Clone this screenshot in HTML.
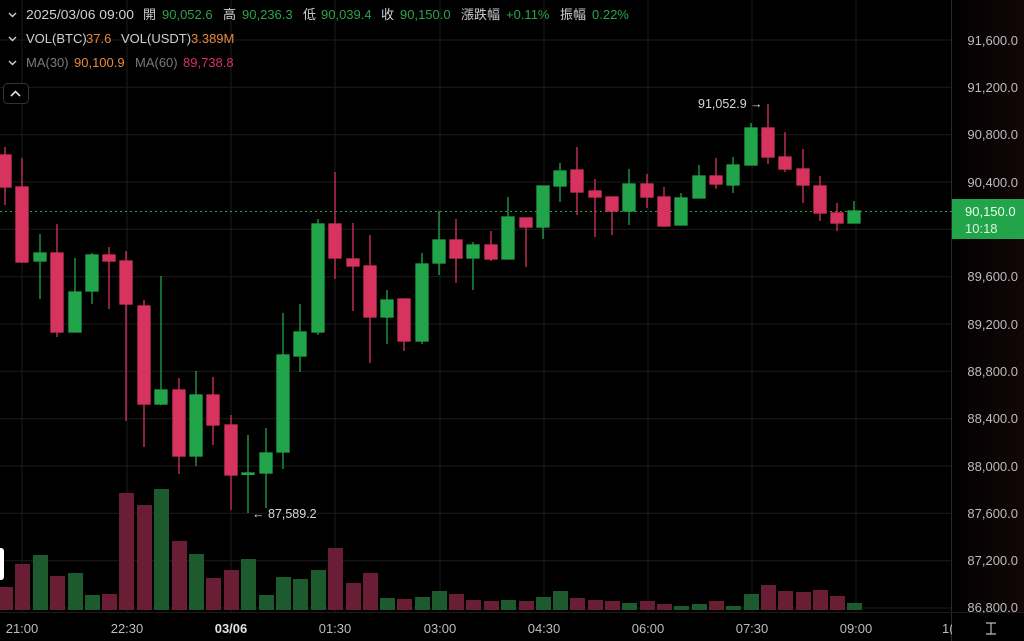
<!DOCTYPE html>
<html><head><meta charset="utf-8"><style>
html,body{margin:0;padding:0;background:#000;}
svg{display:block;font-family:"Liberation Sans","Noto Sans CJK TC",sans-serif;}
</style></head><body>
<svg width="1024" height="641" viewBox="0 0 1024 641" xmlns="http://www.w3.org/2000/svg">
<rect width="1024" height="641" fill="#000"/>
<defs><linearGradient id="rg" x1="0" x2="1"><stop offset="0" stop-color="#000"/><stop offset="1" stop-color="#120608"/></linearGradient></defs>
<rect x="952" y="0" width="72" height="641" fill="url(#rg)"/>
<g stroke="#1c1c1c" stroke-width="1">
<line x1="0" x2="952" y1="40" y2="40"/><line x1="0" x2="952" y1="87.3" y2="87.3"/><line x1="0" x2="952" y1="134.7" y2="134.7"/><line x1="0" x2="952" y1="182" y2="182"/><line x1="0" x2="952" y1="229.3" y2="229.3"/><line x1="0" x2="952" y1="276.7" y2="276.7"/><line x1="0" x2="952" y1="324" y2="324"/><line x1="0" x2="952" y1="371.3" y2="371.3"/><line x1="0" x2="952" y1="418.7" y2="418.7"/><line x1="0" x2="952" y1="466" y2="466"/><line x1="0" x2="952" y1="513.3" y2="513.3"/><line x1="0" x2="952" y1="560.7" y2="560.7"/><line x1="0" x2="952" y1="608" y2="608"/>
<line y1="0" y2="612" x1="22" x2="22"/><line y1="0" y2="612" x1="127" x2="127"/><line y1="0" y2="612" x1="231" x2="231"/><line y1="0" y2="612" x1="335" x2="335"/><line y1="0" y2="612" x1="440" x2="440"/><line y1="0" y2="612" x1="544" x2="544"/><line y1="0" y2="612" x1="648" x2="648"/><line y1="0" y2="612" x1="752" x2="752"/><line y1="0" y2="612" x1="856" x2="856"/>
</g>
<line x1="951.5" x2="951.5" y1="0" y2="641" stroke="#2a2a2a"/>
<line x1="0" x2="1024" y1="612.5" y2="612.5" stroke="#1a1a1a"/>
<g>
<rect x="-2" y="587" width="15" height="23" fill="#6a1e35"/>
<rect x="15" y="564" width="15" height="46" fill="#6a1e35"/>
<rect x="33" y="555" width="15" height="55" fill="#1d5a2d"/>
<rect x="50" y="576" width="15" height="34" fill="#6a1e35"/>
<rect x="68" y="573" width="15" height="37" fill="#1d5a2d"/>
<rect x="85" y="595" width="15" height="15" fill="#1d5a2d"/>
<rect x="102" y="594" width="15" height="16" fill="#6a1e35"/>
<rect x="119" y="493" width="15" height="117" fill="#6a1e35"/>
<rect x="137" y="505" width="15" height="105" fill="#6a1e35"/>
<rect x="154" y="489" width="15" height="121" fill="#1d5a2d"/>
<rect x="172" y="541" width="15" height="69" fill="#6a1e35"/>
<rect x="189" y="554" width="15" height="56" fill="#1d5a2d"/>
<rect x="206" y="578" width="15" height="32" fill="#6a1e35"/>
<rect x="224" y="570" width="15" height="40" fill="#6a1e35"/>
<rect x="241" y="559" width="15" height="51" fill="#1d5a2d"/>
<rect x="259" y="595" width="15" height="15" fill="#1d5a2d"/>
<rect x="276" y="577" width="15" height="33" fill="#1d5a2d"/>
<rect x="293" y="579" width="15" height="31" fill="#1d5a2d"/>
<rect x="311" y="570" width="15" height="40" fill="#1d5a2d"/>
<rect x="328" y="548" width="15" height="62" fill="#6a1e35"/>
<rect x="346" y="583" width="15" height="27" fill="#6a1e35"/>
<rect x="363" y="573" width="15" height="37" fill="#6a1e35"/>
<rect x="380" y="598" width="15" height="12" fill="#1d5a2d"/>
<rect x="397" y="599" width="15" height="11" fill="#6a1e35"/>
<rect x="415" y="597" width="15" height="13" fill="#1d5a2d"/>
<rect x="432" y="591" width="15" height="19" fill="#1d5a2d"/>
<rect x="449" y="594" width="15" height="16" fill="#6a1e35"/>
<rect x="466" y="600" width="15" height="10" fill="#6a1e35"/>
<rect x="484" y="601" width="15" height="9" fill="#6a1e35"/>
<rect x="501" y="600" width="15" height="10" fill="#1d5a2d"/>
<rect x="519" y="601" width="15" height="9" fill="#6a1e35"/>
<rect x="536" y="597" width="15" height="13" fill="#1d5a2d"/>
<rect x="553" y="591" width="15" height="19" fill="#1d5a2d"/>
<rect x="570" y="598" width="15" height="12" fill="#6a1e35"/>
<rect x="588" y="600" width="15" height="10" fill="#6a1e35"/>
<rect x="605" y="601" width="15" height="9" fill="#6a1e35"/>
<rect x="622" y="603" width="15" height="7" fill="#1d5a2d"/>
<rect x="640" y="601" width="15" height="9" fill="#6a1e35"/>
<rect x="657" y="604" width="15" height="6" fill="#6a1e35"/>
<rect x="674" y="606" width="15" height="4" fill="#1d5a2d"/>
<rect x="692" y="604" width="15" height="6" fill="#1d5a2d"/>
<rect x="709" y="601" width="15" height="9" fill="#6a1e35"/>
<rect x="726" y="606" width="15" height="4" fill="#1d5a2d"/>
<rect x="744" y="594" width="15" height="16" fill="#1d5a2d"/>
<rect x="761" y="585" width="15" height="25" fill="#6a1e35"/>
<rect x="778" y="591" width="15" height="19" fill="#6a1e35"/>
<rect x="796" y="592" width="15" height="18" fill="#6a1e35"/>
<rect x="813" y="590" width="15" height="20" fill="#6a1e35"/>
<rect x="830" y="596" width="15" height="14" fill="#6a1e35"/>
<rect x="847" y="603" width="15" height="7" fill="#1d5a2d"/>
</g>
<line x1="0" x2="952" y1="211.5" y2="211.5" stroke="#2aa34a" stroke-dasharray="2 3" stroke-width="1"/>
<g stroke-width="1.3">
<g stroke="#d6335e" fill="#d6335e">
<line x1="5" x2="5" y1="147" y2="205"/><rect x="-1" y="155" width="12" height="32"/>
<line x1="22" x2="22" y1="158" y2="263"/><rect x="16" y="187" width="12" height="75"/>
<line x1="57" x2="57" y1="224" y2="337"/><rect x="51" y="253" width="12" height="79"/>
<line x1="109" x2="109" y1="247" y2="309"/><rect x="103" y="255" width="12" height="6"/>
<line x1="126" x2="126" y1="251" y2="421"/><rect x="120" y="261" width="12" height="43"/>
<line x1="144" x2="144" y1="300" y2="447"/><rect x="138" y="306" width="12" height="98"/>
<line x1="179" x2="179" y1="378" y2="474"/><rect x="173" y="390" width="12" height="66"/>
<line x1="213" x2="213" y1="377" y2="445"/><rect x="207" y="395" width="12" height="30"/>
<line x1="231" x2="231" y1="415" y2="510"/><rect x="225" y="425" width="12" height="50"/>
<line x1="335" x2="335" y1="172" y2="279"/><rect x="329" y="224" width="12" height="34"/>
<line x1="353" x2="353" y1="223" y2="311"/><rect x="347" y="259" width="12" height="7"/>
<line x1="370" x2="370" y1="235" y2="363"/><rect x="364" y="266" width="12" height="51"/>
<line x1="404" x2="404" y1="299" y2="351"/><rect x="398" y="299" width="12" height="42"/>
<line x1="456" x2="456" y1="219" y2="283"/><rect x="450" y="240" width="12" height="18"/>
<line x1="491" x2="491" y1="231" y2="261"/><rect x="485" y="245" width="12" height="14"/>
<line x1="526" x2="526" y1="218" y2="267"/><rect x="520" y="218" width="12" height="9"/>
<line x1="577" x2="577" y1="147" y2="215"/><rect x="571" y="170" width="12" height="22"/>
<line x1="595" x2="595" y1="179" y2="237"/><rect x="589" y="191" width="12" height="6"/>
<line x1="612" x2="612" y1="197" y2="235"/><rect x="606" y="197" width="12" height="14"/>
<line x1="647" x2="647" y1="174" y2="208"/><rect x="641" y="184" width="12" height="13"/>
<line x1="664" x2="664" y1="187" y2="227"/><rect x="658" y="197" width="12" height="29"/>
<line x1="716" x2="716" y1="158" y2="189"/><rect x="710" y="176" width="12" height="8"/>
<line x1="768" x2="768" y1="104" y2="164"/><rect x="762" y="128" width="12" height="29"/>
<line x1="785" x2="785" y1="132" y2="172"/><rect x="779" y="157" width="12" height="12"/>
<line x1="803" x2="803" y1="149" y2="203"/><rect x="797" y="169" width="12" height="16"/>
<line x1="820" x2="820" y1="176" y2="221"/><rect x="814" y="186" width="12" height="27"/>
<line x1="837" x2="837" y1="203" y2="231"/><rect x="831" y="213" width="12" height="10"/>
</g>
<g stroke="#22a44a" fill="#22a44a">
<line x1="40" x2="40" y1="234" y2="299"/><rect x="34" y="253" width="12" height="8"/>
<line x1="75" x2="75" y1="258" y2="332"/><rect x="69" y="292" width="12" height="40"/>
<line x1="92" x2="92" y1="253" y2="304"/><rect x="86" y="255" width="12" height="36"/>
<line x1="161" x2="161" y1="276" y2="405"/><rect x="155" y="390" width="12" height="14"/>
<line x1="196" x2="196" y1="371" y2="466"/><rect x="190" y="395" width="12" height="61"/>
<line x1="248" x2="248" y1="435" y2="513"/><rect x="242" y="473" width="12" height="1.3"/>
<line x1="266" x2="266" y1="428" y2="508"/><rect x="260" y="453" width="12" height="20"/>
<line x1="283" x2="283" y1="313" y2="469"/><rect x="277" y="355" width="12" height="97"/>
<line x1="300" x2="300" y1="304" y2="372"/><rect x="294" y="332" width="12" height="24"/>
<line x1="318" x2="318" y1="219" y2="335"/><rect x="312" y="224" width="12" height="108"/>
<line x1="387" x2="387" y1="290" y2="344"/><rect x="381" y="300" width="12" height="17"/>
<line x1="422" x2="422" y1="253" y2="344"/><rect x="416" y="264" width="12" height="77"/>
<line x1="439" x2="439" y1="211" y2="275"/><rect x="433" y="240" width="12" height="23"/>
<line x1="473" x2="473" y1="242" y2="290"/><rect x="467" y="245" width="12" height="13"/>
<line x1="508" x2="508" y1="197" y2="259"/><rect x="502" y="217" width="12" height="42"/>
<line x1="543" x2="543" y1="186" y2="239"/><rect x="537" y="186" width="12" height="41"/>
<line x1="560" x2="560" y1="163" y2="202"/><rect x="554" y="171" width="12" height="15"/>
<line x1="629" x2="629" y1="169" y2="225"/><rect x="623" y="184" width="12" height="27"/>
<line x1="681" x2="681" y1="193" y2="225"/><rect x="675" y="198" width="12" height="27"/>
<line x1="699" x2="699" y1="165" y2="198"/><rect x="693" y="176" width="12" height="22"/>
<line x1="733" x2="733" y1="157" y2="193"/><rect x="727" y="165" width="12" height="20"/>
<line x1="751" x2="751" y1="123" y2="165"/><rect x="745" y="128" width="12" height="37"/>
<line x1="854" x2="854" y1="201" y2="223"/><rect x="848" y="211" width="12" height="12"/>
</g>
</g>
<g fill="#d8d8d8" font-size="12.5">
<text x="252" y="518">← 87,589.2</text>
<text x="698" y="108">91,052.9 →</text>
</g>
<g fill="none" stroke="#cfcfcf" stroke-width="1.4">
<path d="M9 13 L12.5 16.5 L16 13"/><path d="M9 37 L12.5 40.5 L16 37"/><path d="M9 61 L12.5 64.5 L16 61"/>
</g>
<g font-size="13" fill="#d0d0d0">
<text x="26" y="19" textLength="108" lengthAdjust="spacingAndGlyphs">2025/03/06 09:00</text>
<text x="143" y="19">開</text><text x="162" y="19" fill="#2aa34a">90,052.6</text>
<text x="223" y="19">高</text><text x="242" y="19" fill="#2aa34a">90,236.3</text>
<text x="303" y="19">低</text><text x="321" y="19" fill="#2aa34a">90,039.4</text>
<text x="381" y="19">收</text><text x="400" y="19" fill="#2aa34a">90,150.0</text>
<text x="461" y="19">漲跌幅</text><text x="506" y="19" fill="#2aa34a">+0.11%</text>
<text x="560" y="19">振幅</text><text x="592" y="19" fill="#2aa34a">0.22%</text>
<text x="26" y="43">VOL(BTC)</text><text x="86" y="43" fill="#e8893a">37.6</text>
<text x="121" y="43">VOL(USDT)</text><text x="191" y="43" fill="#e8893a">3.389M</text>
<text x="26" y="67" fill="#7a7a7a">MA(30)</text><text x="74" y="67" fill="#e8893a">90,100.9</text>
<text x="135" y="67" fill="#7a7a7a">MA(60)</text><text x="183" y="67" fill="#d6335e">89,738.8</text>
</g>
<rect x="3.5" y="83.5" width="25" height="20" rx="4" fill="#000" stroke="#333"/>
<path d="M11 96 L15.5 91.5 L20 96" stroke="#ddd" stroke-width="1.6" fill="none"/>
<rect x="-6" y="548" width="10" height="32" rx="3" fill="#fff"/>
<g font-size="13" fill="#bcbcbc" text-anchor="end">
<text x="1018" y="45">91,600.0</text><text x="1018" y="92">91,200.0</text><text x="1018" y="139">90,800.0</text><text x="1018" y="187">90,400.0</text>
<text x="1018" y="281">89,600.0</text><text x="1018" y="329">89,200.0</text><text x="1018" y="376">88,800.0</text><text x="1018" y="423">88,400.0</text><text x="1018" y="471">88,000.0</text><text x="1018" y="518">87,600.0</text><text x="1018" y="565">87,200.0</text><text x="1018" y="612">86,800.0</text>
</g>
<rect x="952" y="199" width="72" height="40" fill="#22a44a"/>
<text x="965" y="216" font-size="13" fill="#e8ffe8">90,150.0</text>
<text x="965" y="233" font-size="13" fill="#d8f5dc">10:18</text>
<g font-size="13" fill="#bcbcbc" text-anchor="middle">
<text x="22" y="633">21:00</text><text x="127" y="633">22:30</text><text x="231" y="633" fill="#e0e0e0" font-weight="bold">03/06</text><text x="335" y="633">01:30</text><text x="440" y="633">03:00</text><text x="544" y="633">04:30</text><text x="648" y="633">06:00</text><text x="752" y="633">07:30</text><text x="856" y="633">09:00</text><text x="942" y="633" text-anchor="start">1(</text>
</g>
<rect x="952" y="613" width="72" height="28" fill="#000"/>
<path d="M986 623 H996 M991 623 V634 M986 634 H996" stroke="#bbb" stroke-width="1.2" fill="none"/>
</svg>
</body></html>
